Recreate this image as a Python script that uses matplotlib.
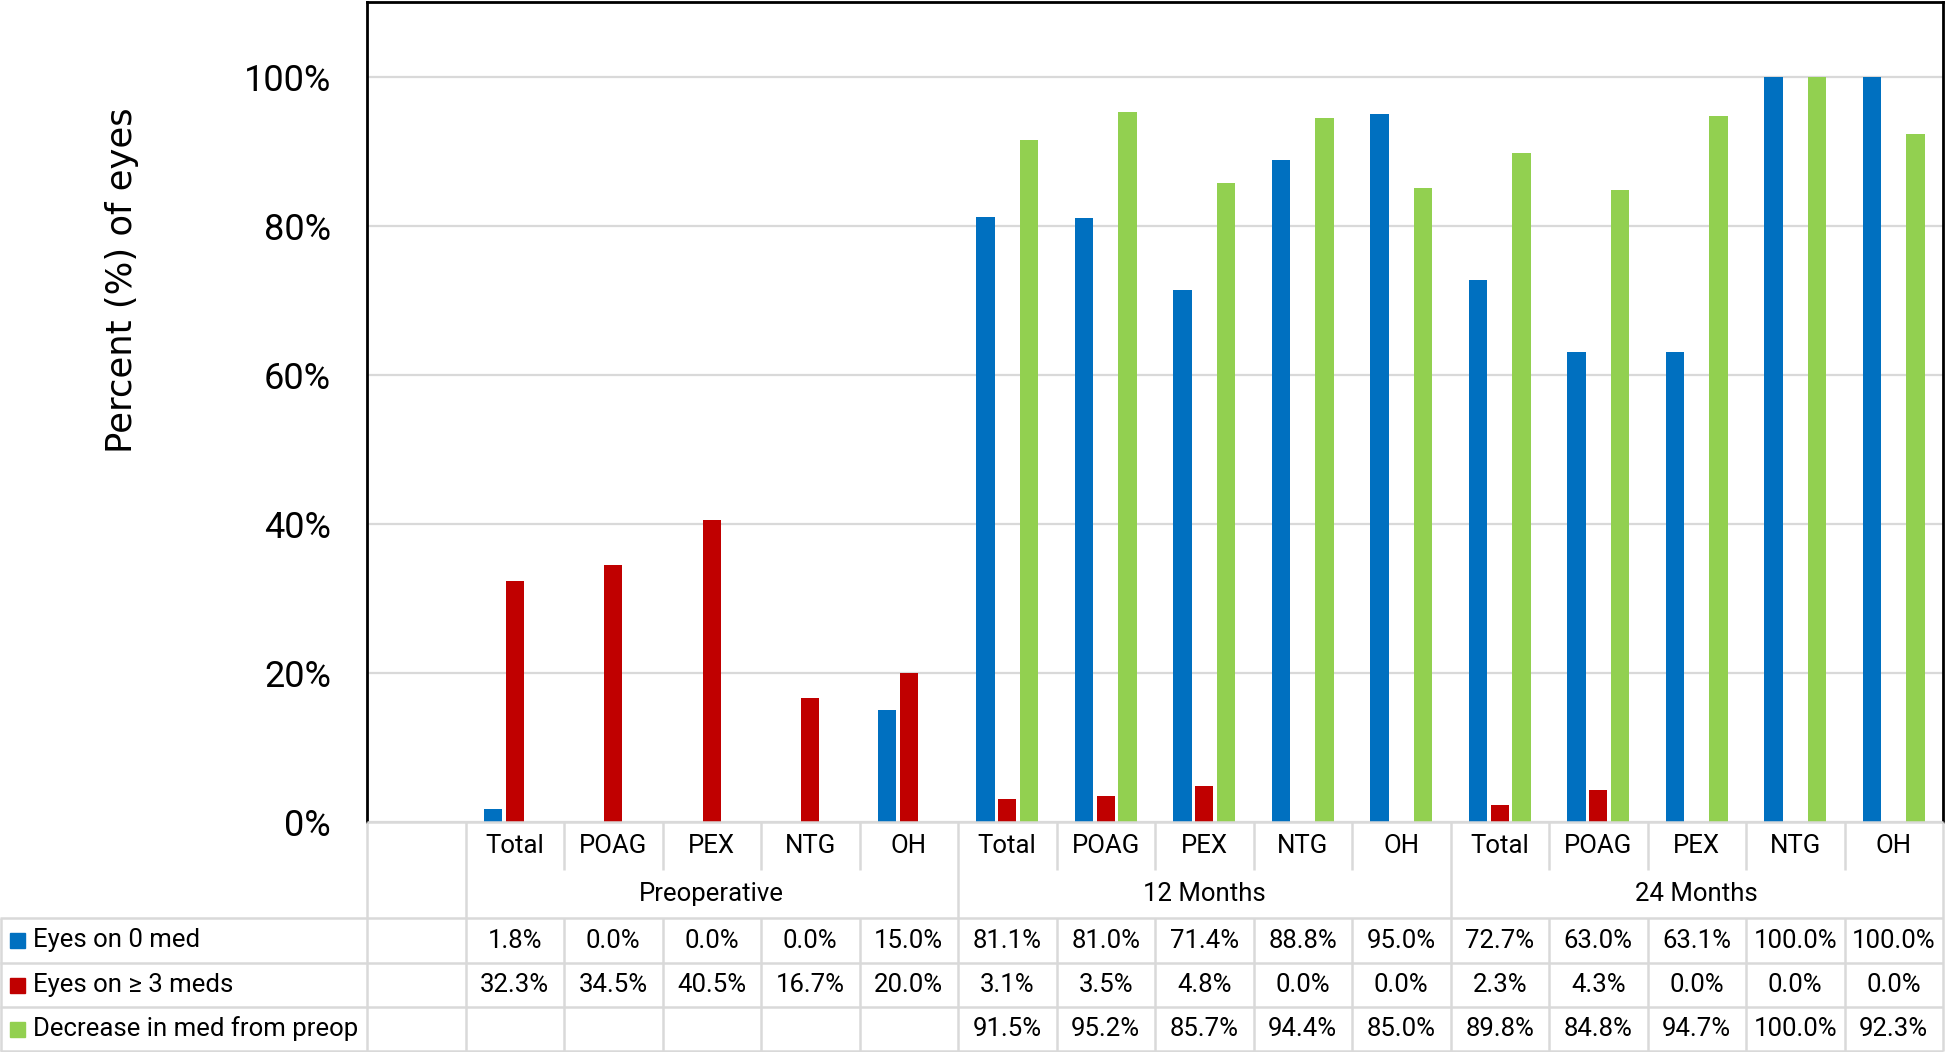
import numpy as np
import matplotlib
matplotlib.use('Agg')
import matplotlib.pyplot as plt
from matplotlib.patches import Rectangle

groups = ['Preoperative', '12 Months', '24 Months']
subgroups = ['Total', 'POAG', 'PEX', 'NTG', 'OH']
series_names = ['Eyes on 0 med', 'Eyes on \u2265 3 meds', 'Decrease in med from preop']
zero_med = [1.8, 0.0, 0.0, 0.0, 15.0, 81.1, 81.0, 71.4, 88.8, 95.0, 72.7, 63.0, 63.1, 100.0, 100.0]
three_meds = [32.3, 34.5, 40.5, 16.7, 20.0, 3.1, 3.5, 4.8, 0.0, 0.0, 2.3, 4.3, 0.0, 0.0, 0.0]
decrease = [np.nan] * 5 + [91.5, 95.2, 85.7, 94.4, 85.0, 89.8, 84.8, 94.7, 100.0, 92.3]
colors = ['#0070C0', '#C00000', '#92D050']

plt.rcParams['font.family'] = ['Roboto', 'DejaVu Sans']

W, H = 1946, 1052
L, R, T, B = 367, 1943, 2, 822          # plot box in pixels
grid_col = '#D9D9D9'
fs_tab = 18.5

fig = plt.figure(figsize=(W / 100, H / 100), dpi=100)
ax = fig.add_axes([L / W, (H - B) / H, (R - L) / W, (B - T) / H])

# slot 0 is an empty category, data in slots 1..15
x = np.arange(1, 16)
series = [zero_med, three_meds, decrease]
offsets = [-0.22, 0.0, 0.22]
for vals, off, c in zip(series, offsets, colors):
    ax.bar(x + off, vals, 0.185, color=c, zorder=3)

ax.set_xlim(-0.5, 15.5)
ax.set_ylim(0, 110)
ax.set_yticks(range(0, 101, 20))
ax.set_yticklabels([f'{v}%' for v in range(0, 101, 20)])
ax.set_xticks([])
ax.tick_params(axis='y', length=0, pad=26, labelsize=26)
ax.yaxis.grid(True, color=grid_col, lw=1.6)
ax.set_axisbelow(True)
for s in ['left', 'top', 'right']:
    ax.spines[s].set_color('black')
    ax.spines[s].set_linewidth(2)
ax.spines['bottom'].set_visible(False)

fig.text(122 / W, 1 - 280 / H, 'Percent (%) of eyes', rotation=90,
         ha='center', va='center', fontsize=25.5, family='DejaVu Sans')

# data table drawn in pixel coords
tab = fig.add_axes([0, 0, 1, 1])
tab.set_xlim(0, W)
tab.set_ylim(H, 0)
tab.axis('off')
tab.patch.set_alpha(0)

w = (R - L) / 16
edges = L + np.arange(17) * w
centers = edges[:-1] + w / 2
row_lines = [918, 963, 1007, 1051]
row_mid = [(row_lines[i] + row_lines[i + 1]) / 2 for i in range(3)]

def hline(y, x0, x1):
    tab.plot([x0, x1], [y, y], color=grid_col, lw=1.8, solid_capstyle='butt')

def vline(xp, y0, y1):
    tab.plot([xp, xp], [y0, y1], color=grid_col, lw=1.8, solid_capstyle='butt')

hline(B, L, R)
for y in row_lines:
    hline(y, 0, R)
vline(1, row_lines[0], row_lines[-1])
vline(L, B, row_lines[-1])
for k in range(1, 17):
    if (k - 1) % 5 == 0:
        vline(edges[k], B, row_lines[-1])
    else:
        vline(edges[k], B, 870)
        vline(edges[k], row_lines[0], row_lines[-1])

for i in range(15):
    tab.text(centers[i + 1], 846, subgroups[i % 5], ha='center', va='center', fontsize=fs_tab)
for g, name in enumerate(groups):
    cx = centers[1 + g * 5: 6 + g * 5].mean()
    tab.text(cx, 894, name, ha='center', va='center', fontsize=fs_tab)

for r, (vals, name, c) in enumerate(zip(series, series_names, colors)):
    yc = row_mid[r]
    tab.add_patch(Rectangle((10, yc - 7.5), 15, 15, color=c))
    tab.text(33, yc, name, ha='left', va='center', fontsize=fs_tab)
    for i, v in enumerate(vals):
        if not np.isnan(v):
            tab.text(centers[i + 1], yc, f'{v:.1f}%', ha='center', va='center', fontsize=fs_tab)

fig.savefig('out.png', dpi=100)
